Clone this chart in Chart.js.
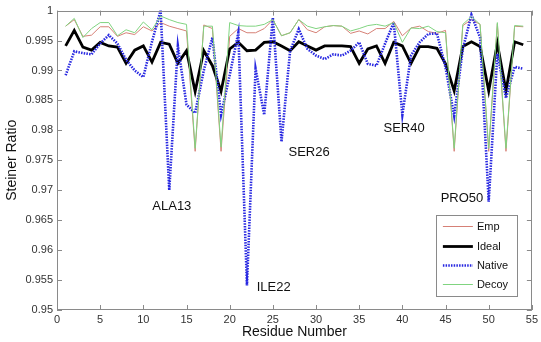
<!DOCTYPE html>
<html>
<head>
<meta charset="utf-8">
<script src="https://cdn.jsdelivr.net/npm/chart.js@4.4.0/dist/chart.umd.min.js"></script>
<style>
    html, body { margin: 0; padding: 0; background: #fff; }
    #wrap { width: 541px; height: 342px; }
</style>
</head>
<body>
<div id="wrap"><canvas id="steinerChart" width="541" height="342"></canvas></div>
<script>
// Datos
var residues = [1, 2, 3, 4, 5, 6, 7, 8, 9, 10, 11, 12, 13, 14, 15, 16, 17, 18, 19, 20,
    21, 22, 23, 24, 25, 26, 27, 28, 29, 30, 31, 32, 33, 34, 35, 36, 37, 38, 39, 40,
    41, 42, 43, 44, 45, 46, 47, 48, 49, 50, 51, 52, 53, 54];

var emp = [0.9974, 0.9985, 0.9957, 0.9959, 0.9973, 0.9973, 0.9957, 0.9963, 0.9960, 0.9973,
    0.9966, 0.9980, 0.9974, 0.9970, 0.9966, 0.9765, 0.9976, 0.9970, 0.9765, 0.9957,
    0.9970, 0.9963, 0.9963, 0.9970, 0.9985, 0.9958, 0.9963, 0.9985, 0.9968, 0.9963,
    0.9973, 0.9975, 0.9974, 0.9962, 0.9966, 0.9961, 0.9970, 0.9970, 0.9982, 0.9958,
    0.9971, 0.9974, 0.9965, 0.9962, 0.9967, 0.9765, 0.9975, 0.9985, 0.9977, 0.9765,
    0.9978, 0.9765, 0.9974, 0.9973];

var ideal = [0.9941, 0.9967, 0.9939, 0.9934, 0.9947, 0.9941, 0.9939, 0.9912, 0.9934, 0.9941,
    0.9914, 0.9947, 0.9944, 0.9912, 0.9933, 0.9865, 0.9933, 0.9908, 0.9865, 0.9936,
    0.9947, 0.9933, 0.9934, 0.9947, 0.9948, 0.9941, 0.9933, 0.9948, 0.9941, 0.9934,
    0.9941, 0.9941, 0.9941, 0.9940, 0.9912, 0.9936, 0.9941, 0.9912, 0.9947, 0.9941,
    0.9912, 0.9940, 0.9940, 0.9937, 0.9911, 0.9866, 0.9940, 0.9948, 0.9940, 0.9866,
    0.9945, 0.9866, 0.9948, 0.9943];

var native = [0.9892, 0.9932, 0.9929, 0.9927, 0.9945, 0.9959, 0.9945, 0.9918, 0.9900, 0.9889,
    0.9948, 1.0000, 0.9700, 0.9941, 0.9843, 0.9829, 0.9900, 0.9955, 0.9826, 0.9892,
    0.9963, 0.9541, 0.9903, 0.9826, 0.9988, 0.9781, 0.9933, 0.9969, 0.9936, 0.9925,
    0.9919, 0.9927, 0.9925, 0.9933, 0.9947, 0.9911, 0.9908, 0.9945, 0.9980, 0.9826,
    0.9925, 0.9947, 0.9961, 0.9962, 0.9905, 0.9824, 0.9936, 0.9993, 0.9955, 0.9681,
    0.9928, 0.9854, 0.9906, 0.9903];

var decoy = [0.9974, 0.9987, 0.9955, 0.9970, 0.9980, 0.9980, 0.9958, 0.9968, 0.9963, 0.9981,
    0.9968, 0.9991, 0.9985, 0.9980, 0.9977, 0.9770, 0.9974, 0.9974, 0.9772, 0.9980,
    0.9975, 0.9974, 0.9974, 0.9977, 0.9985, 0.9958, 0.9963, 0.9985, 0.9974, 0.9970,
    0.9973, 0.9975, 0.9974, 0.9966, 0.9970, 0.9975, 0.9977, 0.9974, 0.9980, 0.9947,
    0.9971, 0.9970, 0.9974, 0.9965, 0.9963, 0.9770, 0.9977, 0.9990, 0.9977, 0.9770,
    0.9980, 0.9770, 0.9975, 0.9974];

var xTicks = [0, 5, 10, 15, 20, 25, 30, 35, 40, 45, 50, 55];
var yTicks = [0.95, 0.955, 0.96, 0.965, 0.97, 0.975, 0.98, 0.985, 0.99, 0.995, 1];

// etiquetas de residuos (texto y su punto en coordenadas de datos)
var peakLabels = ['ALA13', 'ILE22', 'SER26', 'SER40', 'PRO50'];
var peakLabelX = [13.3, 25.1, 29.2, 40.2, 46.9];
var peakLabelY = [0.9673, 0.9537, 0.9763, 0.9804, 0.9687];

var FONT = "'Liberation Sans', Arial, Helvetica, sans-serif";

function toPoints(values) {
    return values.map(function(v, i) { return { x: residues[i], y: v }; });
}

var series = [
    { label: 'Emp', data: emp, color: 'rgb(214,128,118)', width: 1, dash: [], order: 4 },
    { label: 'Ideal', data: ideal, color: '#000000', width: 2.8, dash: [], order: 3 },
    { label: 'Native', data: native, color: 'rgb(40,40,225)', width: 2.6, dash: [1.5, 1.2], order: 2 },
    { label: 'Decoy', data: decoy, color: 'rgb(128,212,128)', width: 1, dash: [], order: 1 }
];

// Plugin: caja tipo MATLAB, ticks hacia dentro, etiquetas y leyenda
var matlabBox = {
    id: 'matlabBox',
    afterDraw: function(chart) {
        var ctx = chart.ctx;
        var a = chart.chartArea;
        var xs = chart.scales.x;
        var ys = chart.scales.y;
        ctx.save();

        ctx.strokeStyle = '#8a8a8a';
        ctx.lineWidth = 1;
        ctx.strokeRect(Math.round(a.left) + 0.5, Math.round(a.top) + 0.5,
            Math.round(a.right - a.left) - 1, Math.round(a.bottom - a.top) - 1);

        ctx.beginPath();
        xTicks.forEach(function(t) {
            var px = Math.round(xs.getPixelForValue(t)) + 0.5;
            ctx.moveTo(px, a.bottom); ctx.lineTo(px, a.bottom - 5);
            ctx.moveTo(px, a.top); ctx.lineTo(px, a.top + 5);
        });
        yTicks.forEach(function(t) {
            var py = Math.round(ys.getPixelForValue(t)) + 0.5;
            ctx.moveTo(a.left, py); ctx.lineTo(a.left + 5, py);
            ctx.moveTo(a.right, py); ctx.lineTo(a.right - 5, py);
        });
        ctx.stroke();

        // etiquetas
        ctx.fillStyle = '#111';
        ctx.font = '13px ' + FONT;
        ctx.textAlign = 'center';
        ctx.textBaseline = 'middle';
        peakLabels.forEach(function(txt, i) {
            ctx.fillText(txt, xs.getPixelForValue(peakLabelX[i]), ys.getPixelForValue(peakLabelY[i]));
        });

        // leyenda
        var right = a.right - 15, bottom = a.bottom - 14;
        var left = right - 81, top = bottom - 81;
        ctx.fillStyle = '#fff';
        ctx.fillRect(left, top, 81, 81);
        ctx.strokeStyle = '#8a8a8a';
        ctx.lineWidth = 1;
        ctx.strokeRect(Math.round(left) + 0.5, Math.round(top) + 0.5, 81, 81);
        ctx.font = '11px ' + FONT;
        ctx.textAlign = 'left';
        var rows = [11, 30.5, 50, 69];
        series.forEach(function(s, i) {
            var y = Math.round(top + rows[i]) + 0.5;
            ctx.beginPath();
            ctx.strokeStyle = s.color;
            ctx.lineWidth = s.width;
            ctx.setLineDash(s.dash);
            ctx.moveTo(left + 7, y);
            ctx.lineTo(left + 37, y);
            ctx.stroke();
            ctx.setLineDash([]);
            ctx.fillStyle = '#111';
            ctx.fillText(s.label, left + 41, y);
        });
        ctx.restore();
    }
};

var ctx = document.getElementById('steinerChart').getContext('2d');
var chart = new Chart(ctx, {
    type: 'line',
    data: {
        datasets: series.map(function(s) {
            return {
                label: s.label,
                data: toPoints(s.data),
                borderColor: s.color,
                borderWidth: s.width,
                borderDash: s.dash,
                pointRadius: 0,
                fill: false,
                tension: 0,
                order: s.order
            };
        })
    },
    options: {
        responsive: false,
        animation: false,
        devicePixelRatio: 1,
        layout: { padding: { left: 0, right: 5, top: 6, bottom: 0 } },
        plugins: {
            legend: { display: false },
            tooltip: { enabled: false }
        },
        scales: {
            x: {
                type: 'linear',
                min: 0,
                max: 55,
                afterFit: function(s) { s.height = 32; },
                afterBuildTicks: function(s) { s.ticks = xTicks.map(function(v) { return { value: v }; }); },
                ticks: { font: { family: FONT, size: 11 }, color: '#333', padding: 3, maxRotation: 0 },
                grid: { display: false, drawTicks: false },
                border: { display: false },
                title: { display: true, text: 'Residue Number', font: { family: FONT, size: 14 }, color: '#111', padding: { top: 0, bottom: 1 } }
            },
            y: {
                type: 'linear',
                min: 0.95,
                max: 1,
                afterFit: function(s) { s.width = 57; },
                afterBuildTicks: function(s) { s.ticks = yTicks.map(function(v) { return { value: v }; }); },
                ticks: {
                    font: { family: FONT, size: 11 },
                    color: '#333',
                    padding: 4,
                    callback: function(v) { return String(+v.toFixed(3)); }
                },
                grid: { display: false, drawTicks: false },
                border: { display: false },
                title: { display: true, text: 'Steiner Ratio', font: { family: FONT, size: 14 }, color: '#111', padding: { top: 4, bottom: 0 } }
            }
        }
    },
    plugins: [matlabBox]
});
</script>
</body>
</html>
